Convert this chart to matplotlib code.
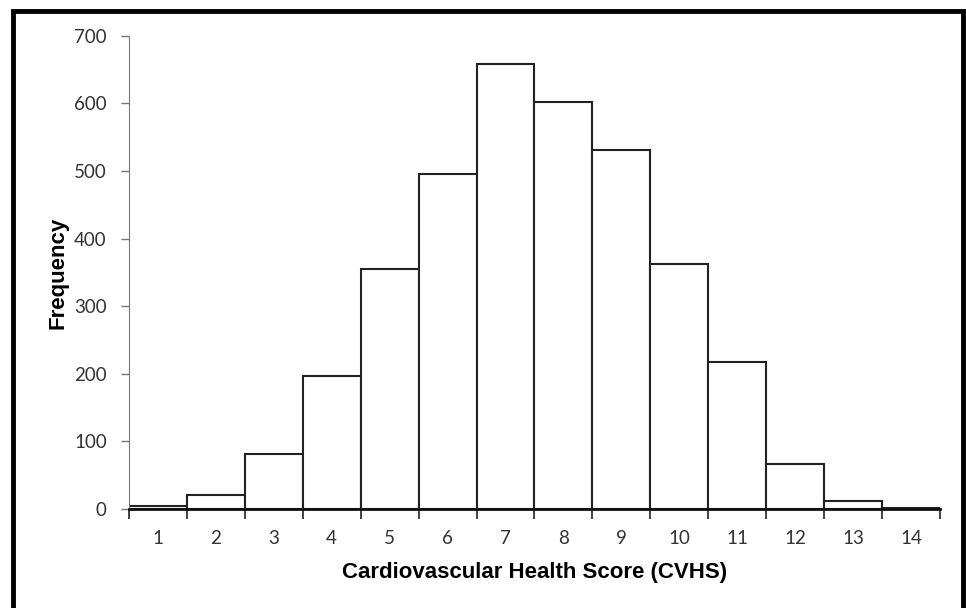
import matplotlib.pyplot as plt
from matplotlib.patches import Rectangle

scores = [1, 2, 3, 4, 5, 6, 7, 8, 9, 10, 11, 12, 13, 14]
frequency = [5, 21, 81, 197, 355, 496, 659, 602, 531, 362, 217, 67, 11, 1]
yticks = [0, 100, 200, 300, 400, 500, 600, 700]

plt.rcParams['font.family'] = ['Lato', 'DejaVu Sans']

fig = plt.figure(figsize=(9.66, 6.08), dpi=100)
ax = fig.add_axes([0.1335, 0.163, 0.8395, 0.778])

ax.bar(scores, frequency, width=1.0, color='white', edgecolor='#222222', linewidth=1.5)

ax.set_xlim(0.5, 14.5)
ax.set_ylim(0, 700)
ax.set_yticks(yticks)
ax.set_xticks(scores)
ax.set_xticks([s + 0.5 for s in [0] + scores], minor=True)
ax.tick_params(axis='x', which='major', length=0, pad=15, labelsize=13.5, labelcolor='#333333')
ax.tick_params(axis='x', which='minor', length=7, width=1.2, color='#222222')
ax.tick_params(axis='y', length=6, width=1, color='#777777', labelsize=13.5, pad=10,
               labelcolor='#333333')

for side in ['top', 'right']:
    ax.spines[side].set_visible(False)
ax.spines['left'].set_color('#777777')
ax.spines['bottom'].set_color('#111111')
ax.spines['bottom'].set_linewidth(2)

ax.set_xlabel('Cardiovascular Health Score (CVHS)', fontsize=16, fontweight='bold',
              family='Liberation Sans', labelpad=11)
ax.set_ylabel('Frequency', fontsize=16, fontweight='bold', family='Liberation Sans',
              labelpad=4)

# outer frame
fig.patches.append(Rectangle((0.0135, -0.05), 0.983, 1.032, transform=fig.transFigure,
                             fill=False, edgecolor='black', linewidth=3.5))

fig.savefig('out.png', dpi=100)
